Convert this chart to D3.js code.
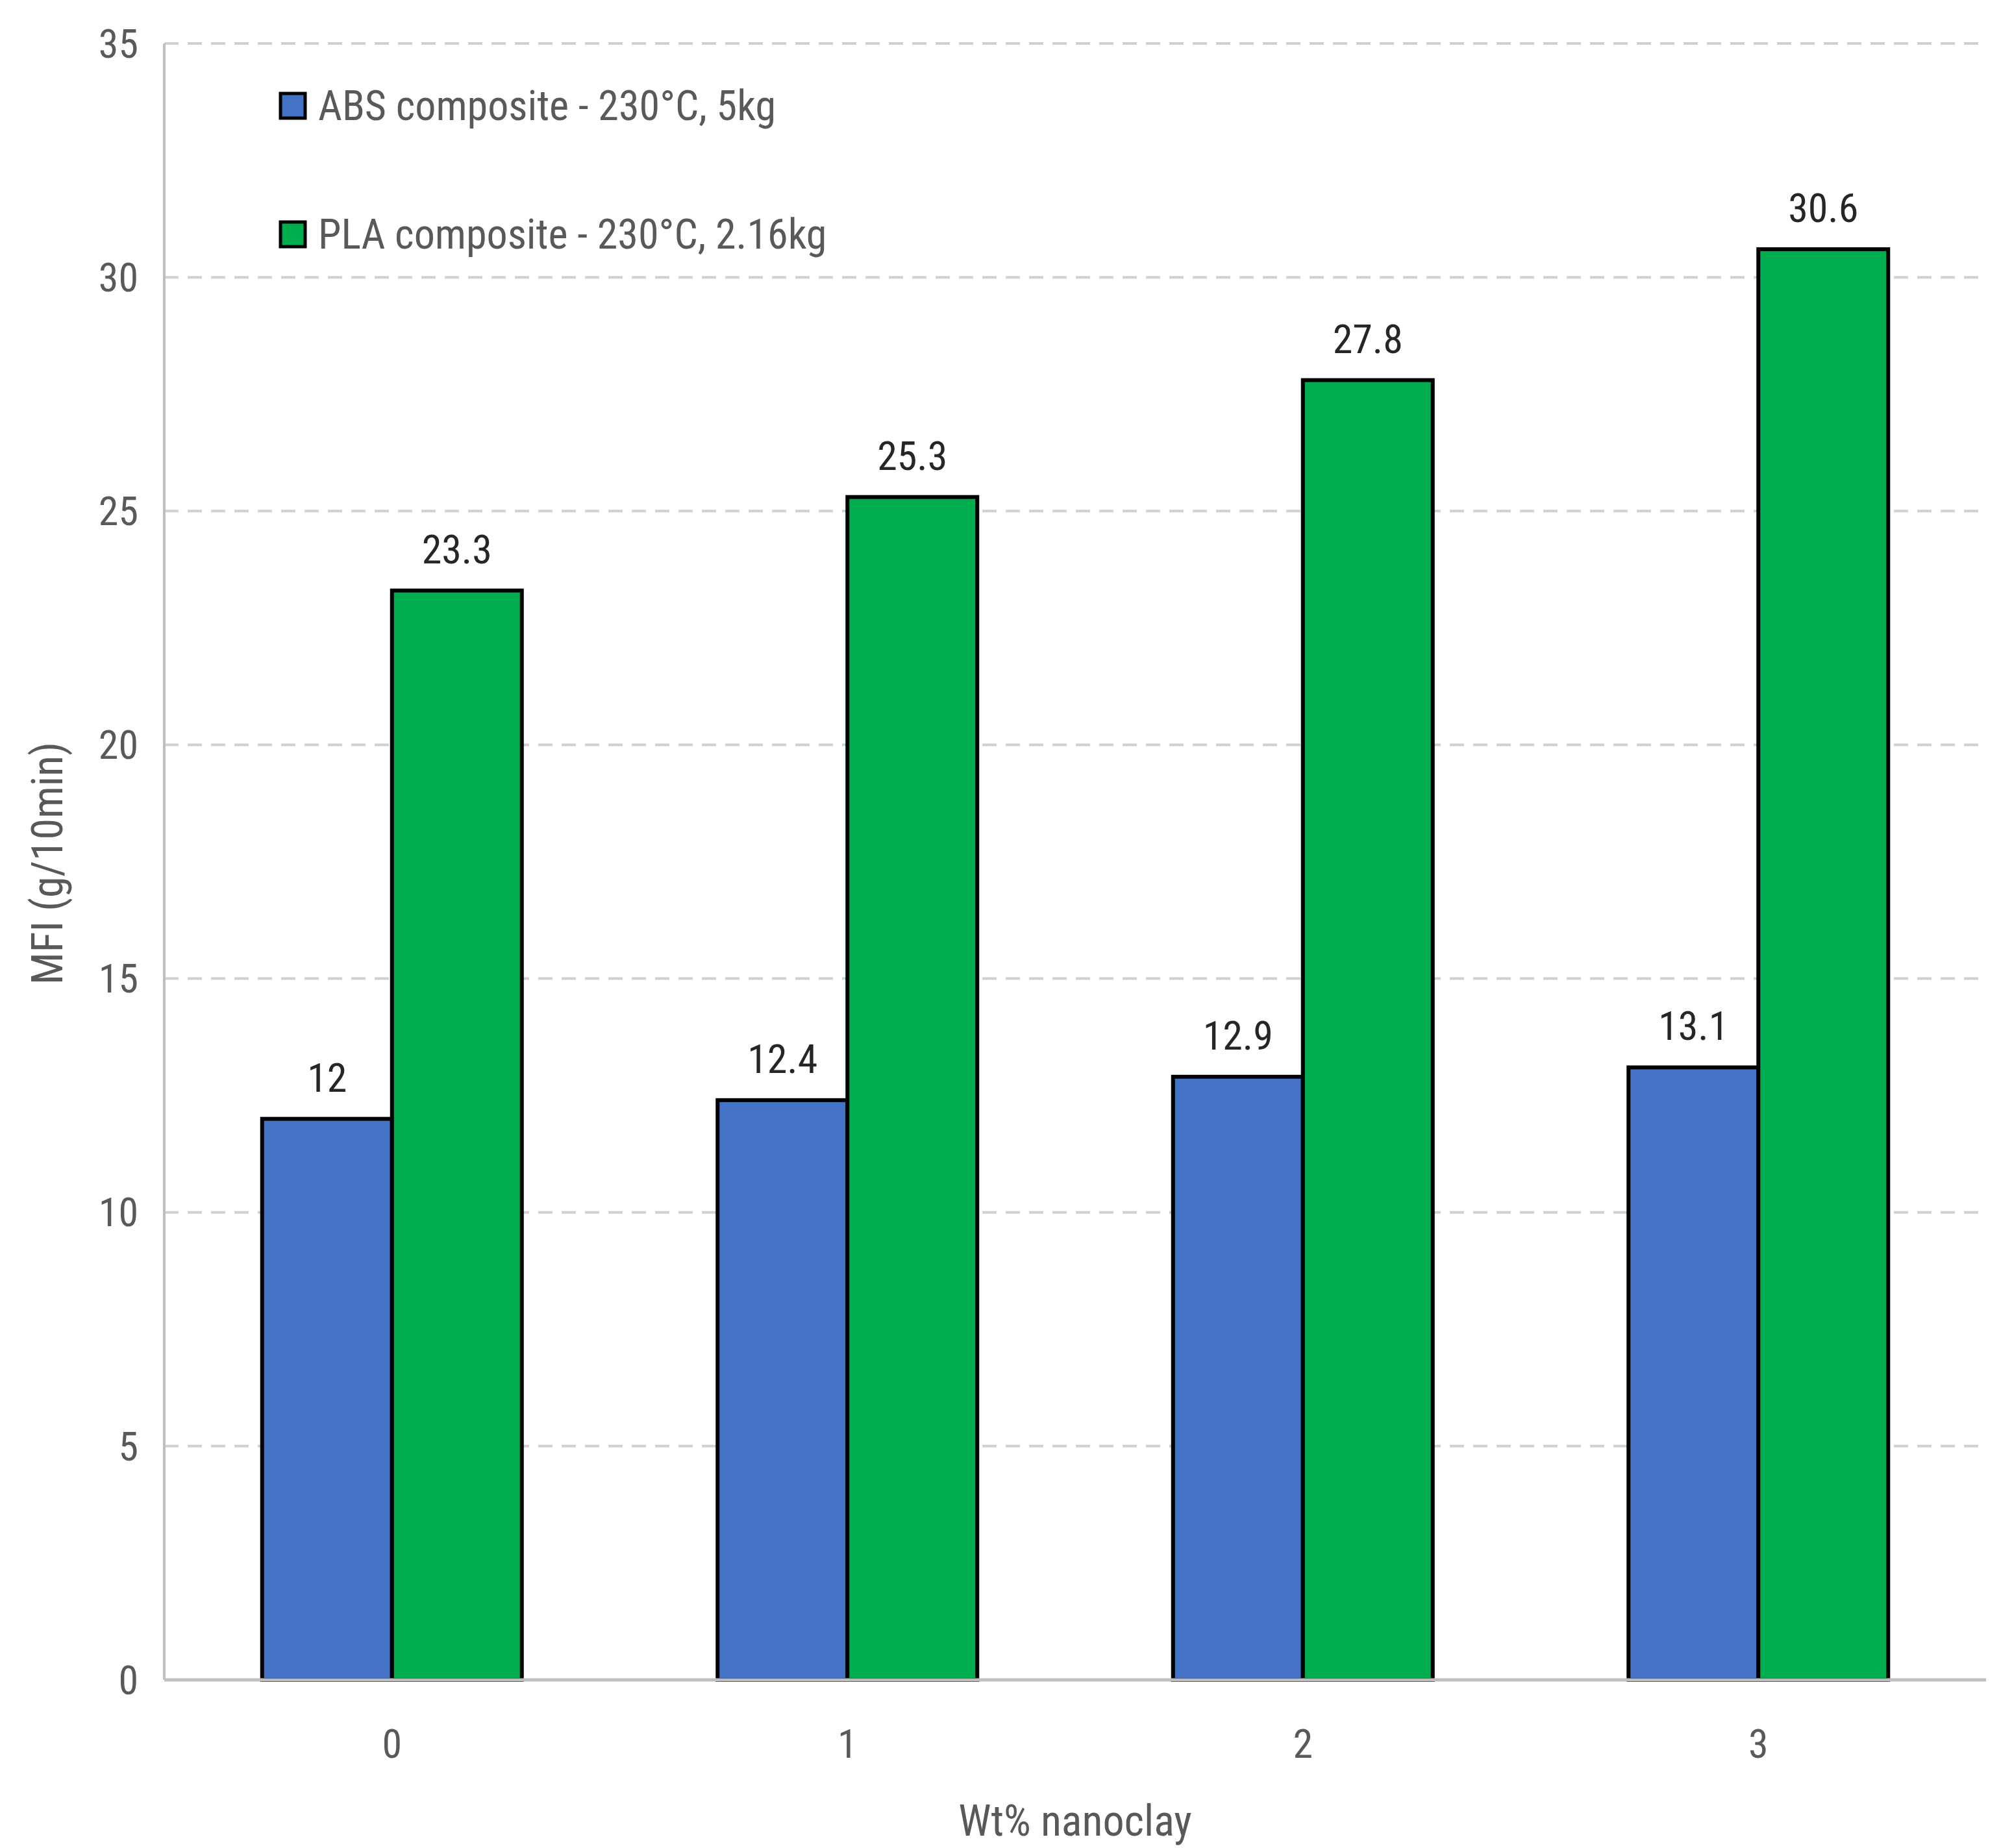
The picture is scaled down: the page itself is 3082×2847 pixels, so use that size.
<!DOCTYPE html>
<html><head><meta charset="utf-8">
<script src="https://cdn.jsdelivr.net/npm/d3@7"></script>
<style>body{margin:0;background:#fff}text{font-family:"Liberation Sans Narrow","Arial Narrow","Roboto Condensed","Liberation Sans",sans-serif}</style>
</head><body><svg id="c" width="3082" height="2847"></svg>
<script>
const categories = ["0", "1", "2", "3"];
const absValues = [12, 12.4, 12.9, 13.1];
const plaValues = [23.3, 25.3, 27.8, 30.6];
const seriesNames = ["ABS composite - 230°C, 5kg", "PLA composite - 230°C, 2.16kg"];
const colors = ["#4472C4", "#00AD4E"];
const yTicks = [0, 5, 10, 15, 20, 25, 30, 35];

const svg = d3.select('#c');
const m = {l: 253, r: 3059, t: 67, b: 2588};
const y = d3.scaleLinear().domain([0, 35]).range([m.b, m.t]);
const x = d3.scaleBand().domain(categories).range([m.l, m.r]);
const bw = 200;

// grid
svg.selectAll('.grid').data(yTicks.filter(d => d > 0)).join('line')
  .attr('x1', m.l).attr('x2', m.r).attr('y1', d => y(d)).attr('y2', d => y(d))
  .attr('stroke', '#d0d0d0').attr('stroke-width', 4).attr('stroke-dasharray', '22,14');
svg.append('line').attr('x1', m.l).attr('x2', m.l).attr('y1', m.t).attr('y2', m.b)
  .attr('stroke', '#bfbfbf').attr('stroke-width', 4);

svg.selectAll('.yt').data(yTicks).join('text')
  .attr('x', m.l - 40).attr('y', d => y(d)).attr('dy', '0.35em').attr('text-anchor', 'end')
  .attr('font-size', 62).attr('fill', '#595959').text(d => d);

const series = [absValues, plaValues];
series.forEach((vals, s) => {
  const g = svg.append('g');
  categories.forEach((c, i) => {
    const cx = x(c) + x.bandwidth() / 2;
    const x0 = s === 0 ? cx - bw : cx;
    g.append('rect').attr('x', x0).attr('y', y(vals[i])).attr('width', bw)
      .attr('height', m.b - y(vals[i])).attr('fill', colors[s])
      .attr('stroke', '#000').attr('stroke-width', 6);
    g.append('text').attr('x', x0 + bw / 2).attr('y', y(vals[i]) - 42)
      .attr('text-anchor', 'middle').attr('font-size', 62).attr('fill', '#262626').text(vals[i]);
  });
});

svg.append('line').attr('x1', m.l).attr('x2', m.r).attr('y1', m.b).attr('y2', m.b)
  .attr('stroke', '#bfbfbf').attr('stroke-width', 5);

svg.selectAll('.xt').data(categories).join('text')
  .attr('x', d => x(d) + x.bandwidth() / 2).attr('y', 2708).attr('text-anchor', 'middle')
  .attr('font-size', 62).attr('fill', '#595959').text(d => d);

svg.append('text').attr('x', (m.l + m.r) / 2).attr('y', 2828).attr('text-anchor', 'middle')
  .attr('font-size', 66).attr('fill', '#595959').text('Wt% nanoclay');
svg.append('text').attr('transform', 'translate(96,1330) rotate(-90)').attr('text-anchor', 'middle')
  .attr('font-size', 66).attr('fill', '#595959').text('MFI (g/10min)');

seriesNames.forEach((n, i) => {
  const ly = 163 + i * 198;
  svg.append('rect').attr('x', 432).attr('y', ly - 19).attr('width', 38).attr('height', 38)
    .attr('fill', colors[i]).attr('stroke', '#000').attr('stroke-width', 5);
  svg.append('text').attr('x', 490).attr('y', ly).attr('dy', '0.35em')
    .attr('font-size', 64).attr('fill', '#595959').text(n);
});
</script></body></html>
